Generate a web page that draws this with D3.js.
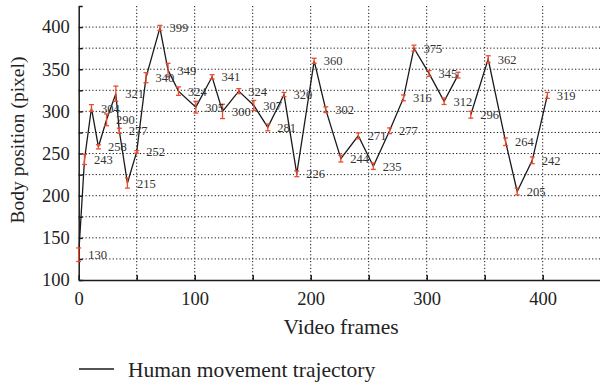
<!DOCTYPE html>
<html lang="en">

<head>
    <meta charset="UTF-8">
    <title>Human movement trajectory</title>
    <script src="https://d3js.org/d3.v7.min.js"></script>
    <style>
        body {
            margin: 0;
            background: #fff;
        }

        svg {
            font-family: "Liberation Serif", "DejaVu Serif", serif;
        }

        .grid line {
            stroke: #111;
            stroke-width: 1;
            stroke-dasharray: 1.2, 2.2;
        }

        .axis path,
        .axis line {
            stroke: #1a1a1a;
            stroke-width: 1.5px;
        }

        .axis text {
            font-family: "Liberation Serif", serif;
            font-size: 18.5px;
            fill: #222;
        }
    </style>
</head>

<body>
    <svg id="chart"></svg>

    <script>
        const width = 600;
        const height = 387;

        // frame index, body position and error half-size per measured point
        // (null entry = break in the trajectory line)
        const frames = [0, 5, 11, 17, 24, 32, 35, 42, 50, 58, 70, 77, 86, 101, 115, 124, 138, 151, 163, 177,
            188, 203, 213, 226, 241, 254, 268, 280, 289, 302, 315, 327, null, 338, 353, 368, 378, 391, 404];
        const positions = [130, 243, 304, 258, 290, 321, 277, 215, 252, 340, 399, 349, 324, 305, 341, 300, 324, 307, 281, 320,
            226, 360, 302, 244, 271, 235, 277, 316, 375, 345, 312, 343, null, 296, 362, 264, 205, 242, 319];
        const errors = [8, 6, 4, 2.5, 7, 9, 3, 6, 1.5, 6, 3, 8, 5, 7, 2.5, 8.5, 3, 6, 4, 2.5,
            3.4, 3, 3.4, 4, 3.4, 3.8, 3.4, 3.5, 3.5, 3.5, 3.8, 3.4, null, 4, 4, 4.5, 4, 4, 3.5];
        const labels = ['130', '243', '304', '258', '290', '321', '277', '215', '252', '340', '399', '349', '324', '305', '341', '300', '324', '307', '281', '320',
            '226', '360', '302', '244', '271', '235', '277', '316', '375', '345', '312', '', '', '296', '362', '264', '205', '242', '319'];

        const xTicks = [0, 50, 100, 150, 200, 250, 300, 350, 400, 450];
        const yTicks = [100, 125, 150, 175, 200, 225, 250, 275, 300, 325, 350, 375, 400, 425];
        const legendLabel = 'Human movement trajectory';

        const data = frames.map((f, i) => ({
            frame: f,
            value: positions[i],
            err: errors[i],
            label: labels[i]
        }));

        const svg = d3.select('#chart')
            .attr('width', width)
            .attr('height', height);

        svg.append('rect').attr('width', width).attr('height', height).attr('fill', '#fff');

        const x = d3.scaleLinear().domain([0, 450]).range([78.7, 600.7]);
        const y = d3.scaleLinear().domain([100, 425]).range([280, 6]);

        // dotted grid
        const grid = svg.append('g').attr('class', 'grid');
        grid.selectAll('.gv')
            .data(xTicks.filter(t => t > 0))
            .join('line')
            .attr('x1', d => x(d)).attr('x2', d => x(d))
            .attr('y1', y(425)).attr('y2', y(100));
        grid.selectAll('.gh')
            .data(yTicks.filter(t => t > 100 && t <= 400))
            .join('line')
            .attr('class', 'gh')
            .attr('x1', x(0)).attr('x2', width)
            .attr('y1', d => y(d)).attr('y2', d => y(d));

        // axes
        svg.append('g')
            .attr('class', 'axis')
            .attr('transform', `translate(0,${y(100)})`)
            .call(d3.axisBottom(x)
                .tickValues(xTicks)
                .tickSizeInner(-5)
                .tickSizeOuter(0)
                .tickPadding(12)
                .tickFormat(d => d % 100 === 0 ? d : ''));

        svg.append('g')
            .attr('class', 'axis')
            .attr('transform', `translate(${x(0)},0)`)
            .call(d3.axisLeft(y)
                .tickValues(yTicks)
                .tickSizeInner(-4)
                .tickSizeOuter(0)
                .tickPadding(9)
                .tickFormat(d => (d % 50 === 0 && d <= 400) ? d : ''));

        // trajectory line
        const line = d3.line()
            .defined(d => d.value !== null)
            .x(d => x(d.frame))
            .y(d => y(d.value));

        svg.append('path')
            .datum(data)
            .attr('fill', 'none')
            .attr('stroke', '#1a1a1a')
            .attr('stroke-width', 1.3)
            .attr('d', line);

        // error bars
        const pts = data.filter(d => d.value !== null);
        const eb = svg.append('g')
            .attr('stroke', '#ee4a2e')
            .attr('stroke-width', 1.3);
        eb.selectAll('.stem')
            .data(pts)
            .join('line')
            .attr('x1', d => x(d.frame)).attr('x2', d => x(d.frame))
            .attr('y1', d => y(d.value - d.err)).attr('y2', d => y(d.value + d.err));
        eb.selectAll('.capTop')
            .data(pts)
            .join('line')
            .attr('class', 'capTop')
            .attr('x1', d => x(d.frame) - 2.5).attr('x2', d => x(d.frame) + 2.5)
            .attr('y1', d => y(d.value + d.err)).attr('y2', d => y(d.value + d.err));
        eb.selectAll('.capBot')
            .data(pts)
            .join('line')
            .attr('class', 'capBot')
            .attr('x1', d => x(d.frame) - 2.5).attr('x2', d => x(d.frame) + 2.5)
            .attr('y1', d => y(d.value - d.err)).attr('y2', d => y(d.value - d.err));

        // value labels
        svg.append('g')
            .selectAll('text')
            .data(pts.filter(d => d.label))
            .join('text')
            .attr('x', d => x(d.frame) + 9.5)
            .attr('y', d => y(d.value) + 4.5)
            .attr('font-size', 12.5)
            .attr('fill', '#333')
            .text(d => d.label);

        // axis titles
        svg.append('text')
            .attr('transform', 'translate(24,140) rotate(-90)')
            .attr('text-anchor', 'middle')
            .attr('font-size', 19.5)
            .attr('fill', '#222')
            .text('Body position (pixel)');

        svg.append('text')
            .attr('x', 341)
            .attr('y', 334)
            .attr('text-anchor', 'middle')
            .attr('font-size', 21.5)
            .attr('fill', '#222')
            .text('Video frames');

        // legend
        svg.append('line')
            .attr('x1', 79).attr('x2', 114)
            .attr('y1', 369).attr('y2', 369)
            .attr('stroke', '#1a1a1a')
            .attr('stroke-width', 1.3);
        svg.append('text')
            .attr('x', 128)
            .attr('y', 377)
            .attr('font-size', 21.5)
            .attr('fill', '#222')
            .text(legendLabel);
    </script>
</body>

</html>
